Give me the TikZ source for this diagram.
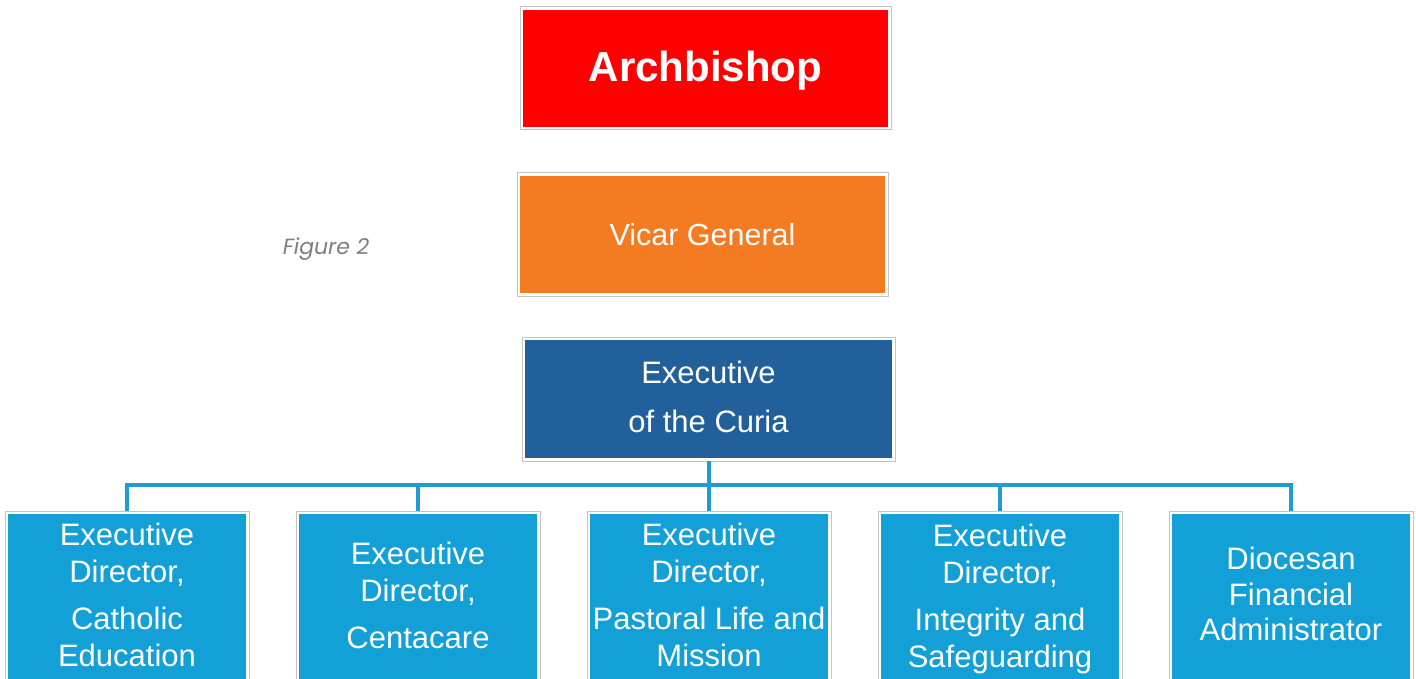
\documentclass[tikz,border=0pt]{standalone}
\usepackage{fontspec}
\setmainfont{Liberation Sans}
\newfontfamily\figfont{Poppins}
\definecolor{archred}{HTML}{FF0000}
\definecolor{vicarorange}{HTML}{F47B22}
\definecolor{curiablue}{HTML}{21609B}
\definecolor{dirblue}{HTML}{12A0D7}
\definecolor{linkblue}{HTML}{1F9BD5}
\definecolor{framegray}{HTML}{C4C4C4}
\definecolor{figgray}{HTML}{7F7F7F}
\begin{document}
\begin{tikzpicture}[x=1pt,y=-1pt,
  box/.style={rectangle, fill=#1, inner sep=0pt, outer sep=3pt, text=white, align=center},
  frame/.style={draw=framegray, line width=1pt},
  link/.style={draw=linkblue, line width=4pt, line join=miter},
  lbl/.style={text=white, align=center, inner sep=0pt, font=\fontsize{31}{37}\selectfont}]
\useasboundingbox (0,0) rectangle (1416,679);
\begin{scope}
\clip (0,0) rectangle (1416,679);
\node[box=archred, minimum width=365pt, minimum height=117pt, text height=32pt, text depth=5pt,
      font=\bfseries\fontsize{42}{50}\selectfont] (arch) at (705.5,68.5) {Archbishop};
\node[box=vicarorange, minimum width=365pt, minimum height=117pt,
      font=\fontsize{30.5}{36}\selectfont] (vicar) at (702.5,234.5) {Vicar General};
\node[box=curiablue, minimum width=367pt, minimum height=118pt] (curia) at (708.5,399) {};
\foreach \n/\x in {d1/127,d2/418,d3/709,d4/1000,d5/1291}
  \node[box=dirblue, minimum width=238pt, minimum height=220pt, anchor=north] (\n) at (\x,511) {};
\foreach \n in {arch,vicar,curia,d1,d2,d3,d4,d5}
  \draw[frame] (\n.south west) rectangle (\n.north east);
\coordinate (bus) at (709,485);
\draw[link] (curia.south) -- (curia.south |- bus);
\draw[link] (d1.north) -- (d1.north |- bus) -- (d5.north |- bus) -- (d5.north);
\foreach \n in {d2,d3,d4}
  \draw[link] (\n.north |- bus) -- (\n.north);
\node[lbl, font=\fontsize{31}{49}\selectfont] (tc) at (708.5,397) {Executive\\of the Curia};
\node[lbl] (t1) at (127,595) {Executive\\Director,\\[10pt]Catholic\\Education};
\node[lbl] (t2) at (418,595) {Executive\\Director,\\[10pt]Centacare};
\node[lbl] (t3) at (709,595) {Executive\\Director,\\[10pt]Pastoral Life and\\Mission};
\node[lbl] (t4) at (1000,599) {Executive\\Director,\\[10pt]Integrity and\\Safeguarding};
\node[lbl, font=\fontsize{31}{35.5}\selectfont] (t5) at (1291,594) {Diocesan\\Financial\\Administrator};
\node[font=\figfont\itshape\fontsize{22}{26}\selectfont, text=figgray, inner sep=0pt] (fig) at (326,249) {Figure 2};
\end{scope}
\end{tikzpicture}
\end{document}
